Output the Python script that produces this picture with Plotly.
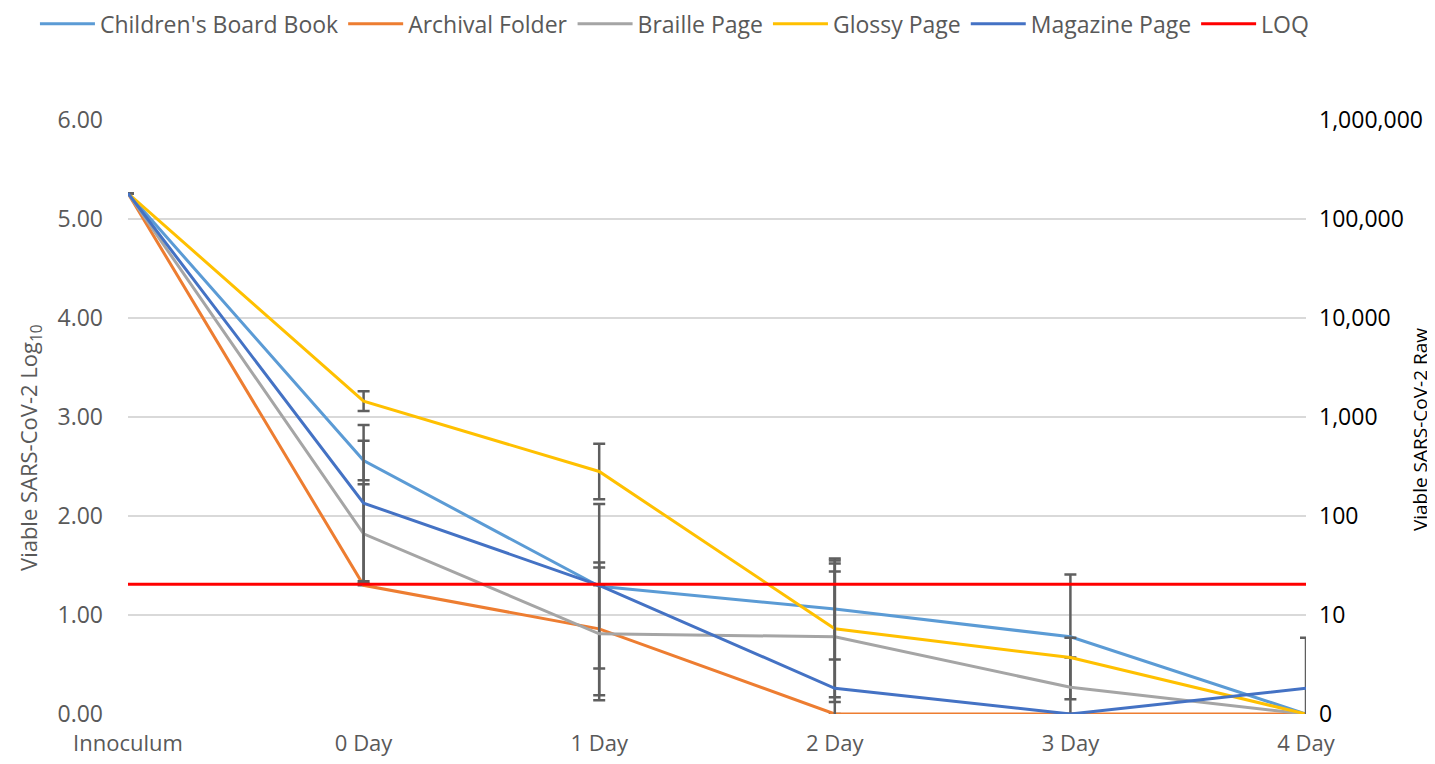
import plotly.graph_objects as go

categories = ["Innoculum", "0 Day", "1 Day", "2 Day", "3 Day", "4 Day"]

children = [5.26, 2.56, 1.29, 1.06, 0.78, 0.00]
children_err = [0, 0.20, 0.83, 0.51, 0.63, 0]
archival = [5.26, 1.30, 0.86, 0.00, 0.00, 0.00]
archival_err = [0, 0, 0.67, 0, 0, 0]
braille = [5.26, 1.82, 0.81, 0.78, 0.27, 0.00]
braille_err = [0, 0.50, 0.67, 0.66, 0.50, 0]
glossy = [5.26, 3.16, 2.45, 0.86, 0.57, 0.00]
glossy_err = [0, 0.10, 0.28, 0.69, 0, 0]
magazine = [5.26, 2.13, 1.30, 0.26, 0.00, 0.26]
magazine_err = [0, 0.79, 0, 1.26, 0, 0.51]
loq_value = 1.31

left_ticks = [0, 1, 2, 3, 4, 5, 6]
left_ticktext = ["0.00", "1.00", "2.00", "3.00", "4.00", "5.00", "6.00"]
right_ticktext = ["0", "10", "100", "1,000", "10,000", "100,000", "1,000,000"]

series = [
    ("Children's Board Book", children, children_err, "#5B9BD5"),
    ("Archival Folder", archival, archival_err, "#ED7D31"),
    ("Braille Page", braille, braille_err, "#A5A5A5"),
    ("Glossy Page", glossy, glossy_err, "#FFC000"),
    ("Magazine Page", magazine, magazine_err, "#4472C4"),
]

FONT = "Open Sans"
GRAY = "#595959"

fig = go.Figure()
for name, vals, errs, color in series:
    fig.add_trace(go.Scatter(
        x=categories, y=vals, name=name, mode="lines",
        line=dict(color=color, width=3),
        error_y=dict(type="data", array=errs, visible=True,
                     color="#5F5F5F", thickness=2.5, width=6),
    ))

fig.add_trace(go.Scatter(
    x=categories, y=[loq_value] * len(categories), name="LOQ", mode="lines",
    line=dict(color="#FF0000", width=3),
))

# invisible trace to anchor the right axis
fig.add_trace(go.Scatter(
    x=categories, y=[None] * len(categories), yaxis="y2",
    showlegend=False, hoverinfo="skip", mode="lines",
))

# the page body adds an 8px offset, so the figure is 8px smaller on each side
fig.update_layout(
    width=1427, height=756,
    paper_bgcolor="white", plot_bgcolor="white",
    margin=dict(l=120, r=129, t=112, b=50, autoexpand=False),
    font=dict(family=FONT, color=GRAY, size=22),
    legend=dict(orientation="h", x=-0.079, xanchor="left", y=1.162, yanchor="middle",
                font=dict(family=FONT, size=23, color=GRAY), itemwidth=55,
                traceorder="normal"),
    xaxis=dict(type="category", range=[0, 5], showgrid=False, zeroline=False,
               showline=False, ticks="", tickfont=dict(family=FONT, size=22, color=GRAY),
               ticklabelstandoff=14),
    yaxis=dict(range=[0, 6], tickvals=left_ticks, ticktext=left_ticktext,
               showgrid=True, gridcolor="#D9D9D9", gridwidth=1.5, zeroline=False,
               showline=False, ticks="", ticklabelstandoff=24,
               tickfont=dict(family=FONT, size=23, color=GRAY)),
    yaxis2=dict(range=[0, 6], overlaying="y", side="right", tickvals=left_ticks,
                ticktext=right_ticktext, showgrid=False, zeroline=False, showline=False,
                ticks="", ticklabelstandoff=12,
                tickfont=dict(family=FONT, size=23, color="#000000")),
    annotations=[
        dict(text="Viable SARS-CoV-2 Log<sub>10</sub>", xref="paper", yref="paper",
             x=-0.0832, y=0.4495, xanchor="center", yanchor="middle", textangle=-90,
             showarrow=False, font=dict(family=FONT, size=22, color=GRAY)),
        dict(text="Viable SARS-CoV-2 Raw", xref="paper", yref="paper",
             x=1.0968, y=0.478, xanchor="center", yanchor="middle", textangle=-90,
             showarrow=False, font=dict(family=FONT, size=19, color="#000000")),
    ],
)

fig.write_html("out.html")
